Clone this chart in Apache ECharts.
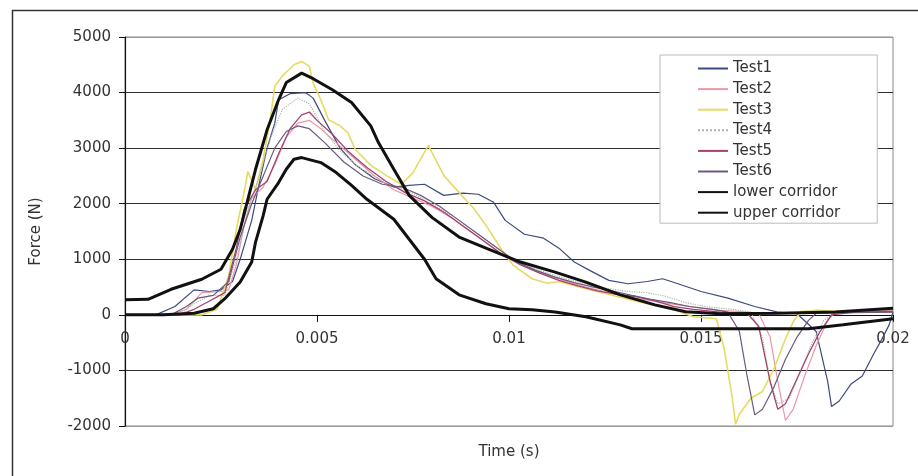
<!DOCTYPE html>
<html>
<head>
<meta charset="utf-8">
<script src="https://cdn.jsdelivr.net/npm/echarts@6/dist/echarts.min.js"></script>
<style>
  html, body { margin: 0; padding: 0; background: #ffffff; }
  #chart { width: 918px; height: 476px; }
</style>
</head>
<body>
<div id="chart"></div>
<script>
// Force-time histories of six tests and the lower / upper corridor bounds (time in s, force in N)
const seriesNames = ['Test1', 'Test2', 'Test3', 'Test4', 'Test5', 'Test6', 'lower corridor', 'upper corridor'];
const yTicks = [-2000, -1000, 0, 1000, 2000, 3000, 4000, 5000];
const xTicks = [0, 0.005, 0.01, 0.015, 0.02];
const xTitle = 'Time (s)';
const yTitle = 'Force (N)';

const test1T = [0, 0.0008, 0.0013, 0.0018, 0.0022, 0.0025, 0.0028, 0.0030, 0.0033, 0.0035, 0.0037, 0.0039, 0.0040, 0.0043, 0.0047, 0.0049, 0.0052, 0.0056, 0.0060, 0.0065, 0.0070, 0.0074, 0.0078, 0.0083, 0.0088, 0.0092, 0.0096, 0.0099, 0.0104, 0.0109, 0.0113, 0.0117, 0.0121, 0.0126, 0.0131, 0.0136, 0.0140, 0.0144, 0.0150, 0.0157, 0.0164, 0.0170, 0.0175, 0.0180, 0.0183, 0.0184, 0.0186, 0.0189, 0.0192, 0.0195, 0.0197, 0.0199, 0.0200];
const test1F = [0, 0, 150, 450, 420, 450, 600, 1000, 1700, 2380, 3000, 3450, 3870, 3980, 4000, 3900, 3500, 3000, 2700, 2450, 2300, 2330, 2350, 2150, 2190, 2170, 2025, 1700, 1450, 1380, 1200, 950, 800, 620, 560, 600, 650, 560, 420, 300, 150, 50, 20, -300, -1200, -1650, -1550, -1250, -1100, -700, -450, -180, 50];

const test2T = [0, 0.0012, 0.0016, 0.0020, 0.0025, 0.0027, 0.0029, 0.0031, 0.0033, 0.0036, 0.0039, 0.0042, 0.0045, 0.0048, 0.0051, 0.0055, 0.0060, 0.0065, 0.0070, 0.0075, 0.0080, 0.0085, 0.0090, 0.0095, 0.0100, 0.0105, 0.0110, 0.0115, 0.0120, 0.0125, 0.0130, 0.0135, 0.0140, 0.0145, 0.0150, 0.0155, 0.0160, 0.0165, 0.0168, 0.0170, 0.0172, 0.0174, 0.0177, 0.0180, 0.0183, 0.0185, 0.0190, 0.0200];
const test2F = [0, 0, 100, 400, 420, 450, 900, 1600, 2100, 2300, 2700, 3200, 3450, 3500, 3350, 3100, 2800, 2500, 2250, 2100, 1950, 1750, 1500, 1250, 1000, 850, 720, 600, 500, 420, 330, 280, 220, 170, 120, 80, 60, 30, -400, -1200, -1900, -1700, -1100, -550, -100, 50, 60, 80];

const test3T = [0, 0.0020, 0.0024, 0.0027, 0.0029, 0.0031, 0.0032, 0.0034, 0.0036, 0.0038, 0.0039, 0.0041, 0.0044, 0.0046, 0.0048, 0.0049, 0.0051, 0.0053, 0.0056, 0.0058, 0.0060, 0.0064, 0.0068, 0.0072, 0.0075, 0.0079, 0.0083, 0.0087, 0.0091, 0.0094, 0.0098, 0.0101, 0.0106, 0.0110, 0.0113, 0.0120, 0.0134, 0.0143, 0.0148, 0.0154, 0.0156, 0.0158, 0.0159, 0.0160, 0.0163, 0.0166, 0.0169, 0.0172, 0.0174, 0.0176, 0.0180, 0.0190, 0.0200];
const test3F = [0, 0, 100, 700, 1540, 2200, 2580, 2250, 2800, 3600, 4120, 4300, 4500, 4560, 4470, 4170, 3870, 3510, 3400, 3280, 2975, 2690, 2510, 2350, 2560, 3050, 2510, 2200, 1900, 1610, 1180, 900, 650, 570, 600, 470, 230, 90, -35, -70, -600, -1430, -1970, -1790, -1500, -1380, -970, -430, -125, 60, 80, 50, 60];

const test4T = [0, 0.0014, 0.0018, 0.0022, 0.0026, 0.0029, 0.0032, 0.0035, 0.0038, 0.0041, 0.0045, 0.0048, 0.0052, 0.0056, 0.0061, 0.0066, 0.0071, 0.0076, 0.0081, 0.0086, 0.0091, 0.0096, 0.0101, 0.0106, 0.0111, 0.0116, 0.0121, 0.0126, 0.0131, 0.0136, 0.0141, 0.0146, 0.0151, 0.0158, 0.0163, 0.0166, 0.0168, 0.0170, 0.0173, 0.0176, 0.0179, 0.0182, 0.0185, 0.0190, 0.0200];
const test4F = [0, 0, 200, 350, 350, 1000, 1900, 2500, 3200, 3700, 3900, 3800, 3300, 2950, 2650, 2450, 2300, 2150, 1950, 1750, 1500, 1250, 1000, 850, 730, 630, 540, 470, 420, 400, 330, 220, 150, 100, 50, -400, -1200, -1600, -1500, -1000, -500, -100, 50, 50, 70];

const test5T = [0, 0.0014, 0.0018, 0.0022, 0.0026, 0.0029, 0.0031, 0.0034, 0.0037, 0.0040, 0.0043, 0.0046, 0.0048, 0.0050, 0.0054, 0.0058, 0.0063, 0.0068, 0.0073, 0.0078, 0.0083, 0.0088, 0.0093, 0.0098, 0.0103, 0.0108, 0.0113, 0.0118, 0.0123, 0.0128, 0.0133, 0.0138, 0.0143, 0.0148, 0.0155, 0.0162, 0.0165, 0.0168, 0.0170, 0.0172, 0.0175, 0.0178, 0.0181, 0.0184, 0.0190, 0.0200];
const test5F = [0, 0, 100, 250, 400, 1200, 1900, 2250, 2400, 2900, 3350, 3600, 3650, 3500, 3250, 2950, 2650, 2400, 2200, 2050, 1850, 1600, 1350, 1100, 900, 750, 620, 520, 430, 370, 330, 250, 150, 100, 50, 30, -200, -1200, -1700, -1600, -1150, -700, -300, 0, 50, 60];

const test6T = [0, 0.0012, 0.0016, 0.0019, 0.0023, 0.0027, 0.0030, 0.0033, 0.0036, 0.0039, 0.0042, 0.0045, 0.0048, 0.0052, 0.0057, 0.0062, 0.0067, 0.0072, 0.0077, 0.0082, 0.0087, 0.0092, 0.0097, 0.0102, 0.0107, 0.0112, 0.0117, 0.0122, 0.0127, 0.0132, 0.0137, 0.0142, 0.0147, 0.0153, 0.0157, 0.0160, 0.0162, 0.0164, 0.0166, 0.0169, 0.0172, 0.0175, 0.0178, 0.0180, 0.0190, 0.0200];
const test6F = [0, 0, 150, 300, 350, 600, 1400, 2000, 2500, 3000, 3300, 3400, 3350, 3100, 2750, 2500, 2350, 2300, 2150, 1950, 1700, 1450, 1200, 950, 800, 680, 580, 500, 430, 350, 280, 220, 150, 100, 50, -300, -1100, -1800, -1700, -1300, -800, -400, -100, 30, 40, 50];

const lowerT = [0, 0.0010, 0.0018, 0.0023, 0.0026, 0.0030, 0.0033, 0.0034, 0.0036, 0.0037, 0.0040, 0.0042, 0.0044, 0.0046, 0.0051, 0.0055, 0.0059, 0.0063, 0.0070, 0.0074, 0.0078, 0.0081, 0.0087, 0.0094, 0.0100, 0.0106, 0.0112, 0.0120, 0.0129, 0.0132, 0.0178, 0.0187, 0.0200];
const lowerF = [0, 0, 30, 110, 290, 590, 950, 1310, 1790, 2080, 2380, 2620, 2800, 2830, 2740, 2560, 2330, 2080, 1720, 1360, 1000, 650, 360, 200, 110, 90, 50, -35, -180, -250, -250, -180, -70];

const upperT = [0, 0.0006, 0.0012, 0.0020, 0.0025, 0.0028, 0.0030, 0.0032, 0.0034, 0.0037, 0.0040, 0.0042, 0.0046, 0.0049, 0.0054, 0.0059, 0.0064, 0.0066, 0.0070, 0.0074, 0.0080, 0.0087, 0.0094, 0.0103, 0.0112, 0.0120, 0.0129, 0.0138, 0.0146, 0.0155, 0.0170, 0.0185, 0.0200];
const upperF = [270, 280, 460, 640, 820, 1180, 1540, 2080, 2620, 3330, 3870, 4180, 4350, 4250, 4050, 3820, 3400, 3100, 2620, 2150, 1750, 1400, 1200, 950, 770, 590, 360, 180, 55, 20, 30, 50, 120];

const seriesT = [test1T, test2T, test3T, test4T, test5T, test6T, lowerT, upperT];
const seriesF = [test1F, test2F, test3F, test4F, test5F, test6F, lowerF, upperF];

const lineColors = ['#3d4a7e', '#ec97a8', '#e4dc62', '#a9b8a6', '#a3416f', '#6c5a7c', '#111111', '#111111'];
const lineWidths = [1.2, 1.2, 1.6, 1.2, 1.3, 1.2, 3, 3];
const lineTypes = ['solid', 'solid', 'solid', 'dotted', 'solid', 'solid', 'solid', 'solid'];

const font = 'DejaVu Sans';
const textColor = '#333333';

const series = seriesNames.map((name, i) => ({
  name: name,
  type: 'line',
  symbol: 'none',
  smooth: false,
  z: i >= 6 ? 4 : 3,
  lineStyle: { color: lineColors[i], width: lineWidths[i], type: lineTypes[i] },
  itemStyle: { color: lineColors[i] },
  data: seriesT[i].map((t, k) => [t, seriesF[i][k]])
}));

// Gridlines: outer ones (5000 and -2000) are lighter
const splitColors = yTicks.map(v => (v === 5000 || v === -2000) ? '#9a9a9a' : '#2e2e2e');

const chart = echarts.init(document.getElementById('chart'), null, { renderer: 'canvas' });
chart.setOption({
  animation: false,
  backgroundColor: '#ffffff',
  textStyle: { fontFamily: font },
  grid: {
    left: 125, right: 25, top: 37, bottom: 50,
    show: true, borderColor: '#888888', borderWidth: 1, backgroundColor: 'transparent'
  },
  graphic: [{
    // chart-area frame
    type: 'rect', left: 10, top: 8, silent: true,
    shape: { width: 1000, height: 1000 },
    style: { fill: 'none', stroke: '#333333', lineWidth: 1.5 }
  }, {
    // x-axis title, placed under the plot
    type: 'text', x: 509, y: 452, silent: true,
    style: { text: xTitle, font: '15px "DejaVu Sans"', fill: textColor,
      textAlign: 'center', textVerticalAlign: 'middle' }
  }],
  legend: {
    orient: 'vertical', left: 660, top: 55,
    padding: [6, 37, 3, 37],
    itemWidth: 30, itemHeight: 15, itemGap: 5.6,
    itemStyle: { opacity: 0 },
    backgroundColor: '#ffffff', borderColor: '#bbbbbb', borderWidth: 1,
    textStyle: { fontFamily: font, fontSize: 15, color: textColor },
    data: seriesNames
  },
  xAxis: {
    type: 'value', min: xTicks[0], max: xTicks[xTicks.length - 1], interval: 0.005,
    axisLine: { onZero: true, lineStyle: { color: '#111111', width: 1.2 } },
    axisTick: { show: true, length: 7, lineStyle: { color: '#111111' } },
    // tick labels sit just under the zero line
    axisLabel: { margin: -94, fontFamily: font, fontSize: 15, color: textColor,
      formatter: v => String(v) },
    splitLine: { show: false }
  },
  yAxis: {
    type: 'value', min: yTicks[0], max: yTicks[yTicks.length - 1], interval: 1000,
    name: yTitle, nameLocation: 'middle', nameGap: 81,
    nameTextStyle: { fontFamily: font, fontSize: 15, color: textColor },
    axisLine: { show: true, onZero: false, lineStyle: { color: '#111111', width: 1.2 } },
    axisTick: { show: true, length: 6, lineStyle: { color: '#111111' } },
    axisLabel: { margin: 14, fontFamily: font, fontSize: 15, color: textColor,
      formatter: v => String(v) },
    splitLine: { show: true, lineStyle: { color: splitColors, width: 1.2 } }
  },
  series: series
});
</script>
</body>
</html>
